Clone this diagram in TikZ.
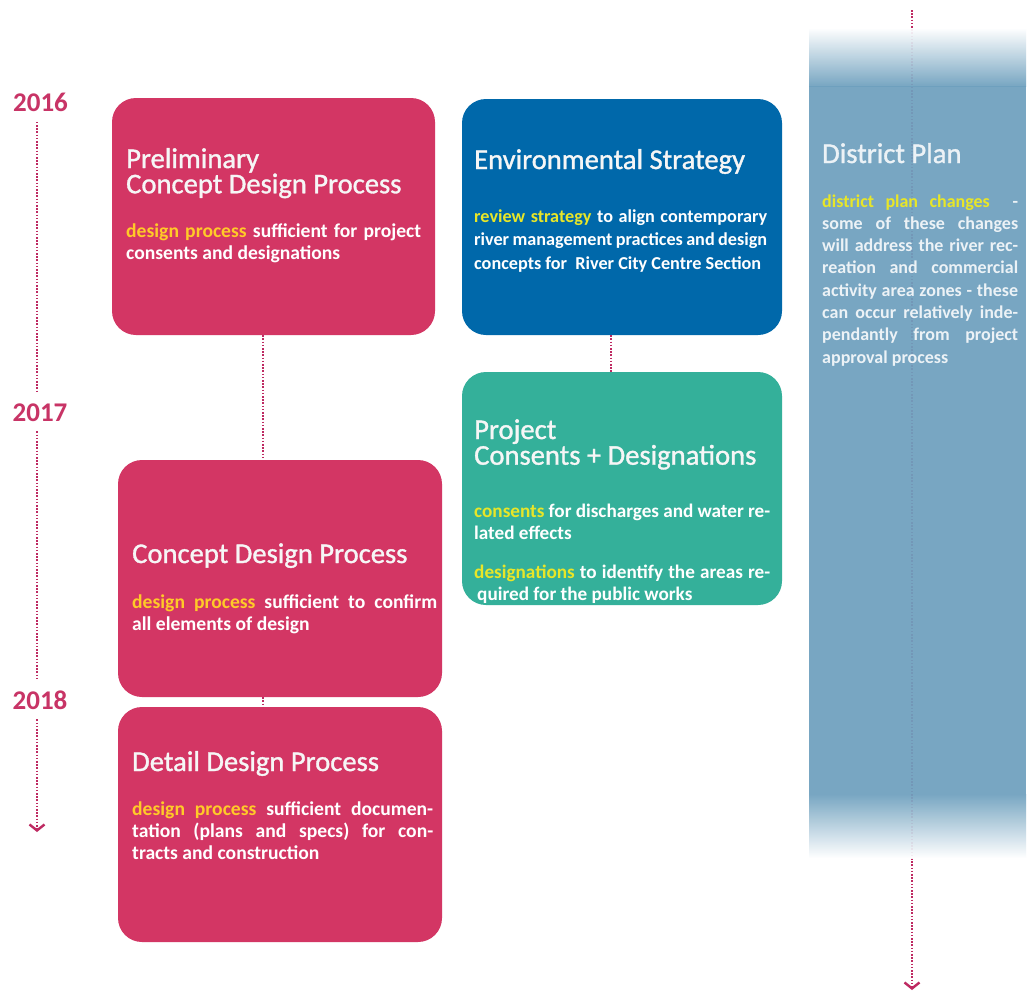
\documentclass[tikz,border=0pt]{standalone}
\usepackage{fontspec}
\setmainfont{Carlito}
\newfontface\ttlfont{Carlito}[FakeBold=1.2]
\usetikzlibrary{arrows.meta,calc}
\definecolor{pinkbox}{RGB}{211,54,100}
\definecolor{envblue}{RGB}{0,104,170}
\definecolor{teal}{RGB}{52,176,154}
\definecolor{dpblue}{RGB}{110,160,190}
\definecolor{tlcol}{RGB}{190,42,98}
\definecolor{yearcol}{RGB}{200,52,102}
\definecolor{yelP}{RGB}{255,202,40}
\definecolor{yelB}{RGB}{232,230,40}
\definecolor{offwhite}{RGB}{246,246,246}
\definecolor{dptext}{RGB}{236,242,246}
\newcommand\hlp[1]{\textcolor{yelP}{#1}}
\newcommand\hlb[1]{\textcolor{yelB}{#1}}
\newcommand\jl[1]{\makebox[\linewidth][s]{#1}\\}
\begin{document}
\begin{tikzpicture}[x=1pt,y=-1pt,
  box/.style={rounded corners=24pt, inner sep=0pt, draw=none},
  tline/.style={draw=tlcol, line width=2.2pt, dash pattern=on 1.6pt off 1.6pt},
  chev/.style={-{Straight Barb[length=6pt,width=15pt,line width=2.4pt]}},
  ttl/.style={anchor=base west, inner sep=0pt, text=offwhite, font=\ttlfont\fontsize{28.6}{24}\selectfont},
  body/.style={anchor=base west, inner sep=0pt, text=white, font=\bfseries\fontsize{19.6}{22}\selectfont},
  year/.style={text=yearcol, font=\bfseries\fontsize{27}{27}\selectfont, inner sep=0pt, outer ysep=10pt}]
\fill[white] (0,0) rectangle (1029,994);
\useasboundingbox (0,0) rectangle (1029,994);

% right timeline (behind district plan box)
\coordinate (rtop) at (912,10);
\coordinate (rbot) at (912,990);
\draw[tline, chev] (rtop) -- (rbot);

% district plan box
\shade[top color=white, bottom color=dpblue, opacity=0.93] (809,28) rectangle (1026,86);
\node[box, rounded corners=0pt, fill=dpblue, fill opacity=0.93, minimum width=217pt, minimum height=708pt] (dp) at (917.5,440) {};
\shade[top color=dpblue, bottom color=white, opacity=0.93] (809,794) rectangle (1026,858);

% boxes
\node[box, fill=pinkbox, minimum width=323pt, minimum height=237pt] (pre) at (273.5,216.5) {};
\node[box, fill=envblue, minimum width=320pt, minimum height=236pt] (env) at (622,217) {};
\node[box, fill=teal, minimum width=320pt, minimum height=233pt] (prj) at (622,488.5) {};
\node[box, fill=pinkbox, minimum width=324pt, minimum height=237pt] (con) at (280,578.5) {};
\node[box, fill=pinkbox, minimum width=324pt, minimum height=235pt] (det) at (280,824.5) {};

% connectors
\coordinate (cx1) at (263,0);
\coordinate (cx2) at (611,0);
\draw[tline] (pre.south -| cx1) -- (con.north -| cx1);
\draw[tline] (con.south -| cx1) -- (det.north -| cx1);
\draw[tline] (env.south -| cx2) -- (prj.north -| cx2);

% left timeline
\node[year] (y16) at (40.5,102.5) {2016};
\node[year] (y17) at (40,412.5) {2017};
\node[year] (y18) at (40,700) {2018};
\coordinate (lx) at (37,0);
\coordinate (lend) at (37,832);
\draw[tline] (y16.south -| lx) -- (y17.north -| lx);
\draw[tline] (y17.south -| lx) -- (y18.north -| lx);
\draw[tline, chev] (y18.south -| lx) -- (lend);

% texts
\node[ttl] (preT) at (126,168) {\parbox[t]{310pt}{\raggedright Preliminary\\Concept Design Process}};
\node[body] (preB) at (126,237) {\parbox[t]{295pt}{\raggedright\jl{\hlp{design process} sufficient for project}consents and designations}};

\node[ttl] (envT) at (474,169) {\parbox[t]{300pt}{\raggedright Environmental Strategy}};
\node[body, font=\bfseries\fontsize{18.2}{23.5}\selectfont] (envB) at (474,222) {\parbox[t]{293pt}{\raggedright\jl{\hlb{review strategy} to align contemporary}\jl{river management practices and design}concepts for \ River City Centre Section}};

\node[ttl] (prjT) at (474,439) {\parbox[t]{300pt}{\raggedright Project\\Consents + Designations}};
\node[body, font=\bfseries\fontsize{19.2}{22}\selectfont] (prjB1) at (474,517) {\parbox[t]{296pt}{\raggedright\jl{\hlb{consents} for discharges and water re-}lated effects}};
\node[body, font=\bfseries\fontsize{19.2}{22}\selectfont] (prjB2) at (474,578) {\parbox[t]{296pt}{\raggedright\jl{\hlb{designations} to identify the areas re-}\hspace{3pt}quired for the public works}};

\node[ttl] (conT) at (132,563) {\parbox[t]{300pt}{\raggedright Concept Design Process}};
\node[body] (conB) at (132,608) {\parbox[t]{305pt}{\raggedright\jl{\hlp{design process} sufficient to confirm}all elements of design}};

\node[ttl] (detT) at (132,771) {\parbox[t]{300pt}{\raggedright Detail Design Process}};
\node[body] (detB) at (132,815) {\parbox[t]{301pt}{\raggedright\jl{\hlp{design process} sufficient documen-}\jl{tation (plans and specs) for con-}tracts and construction}};

\node[ttl, text=dptext] (dpT) at (822,163) {\parbox[t]{200pt}{\raggedright District Plan}};
\node[body, text=dptext, font=\bfseries\fontsize{18}{22.3}\selectfont] (dpB) at (822,207) {\parbox[t]{196pt}{\raggedright\jl{\hlb{district plan changes} \ -}\jl{some of these changes}\jl{will address the river rec-}\jl{reation and commercial}\jl{activity area zones - these}\jl{can occur relatively inde-}\jl{pendantly from project}approval process}};
\end{tikzpicture}
\end{document}
